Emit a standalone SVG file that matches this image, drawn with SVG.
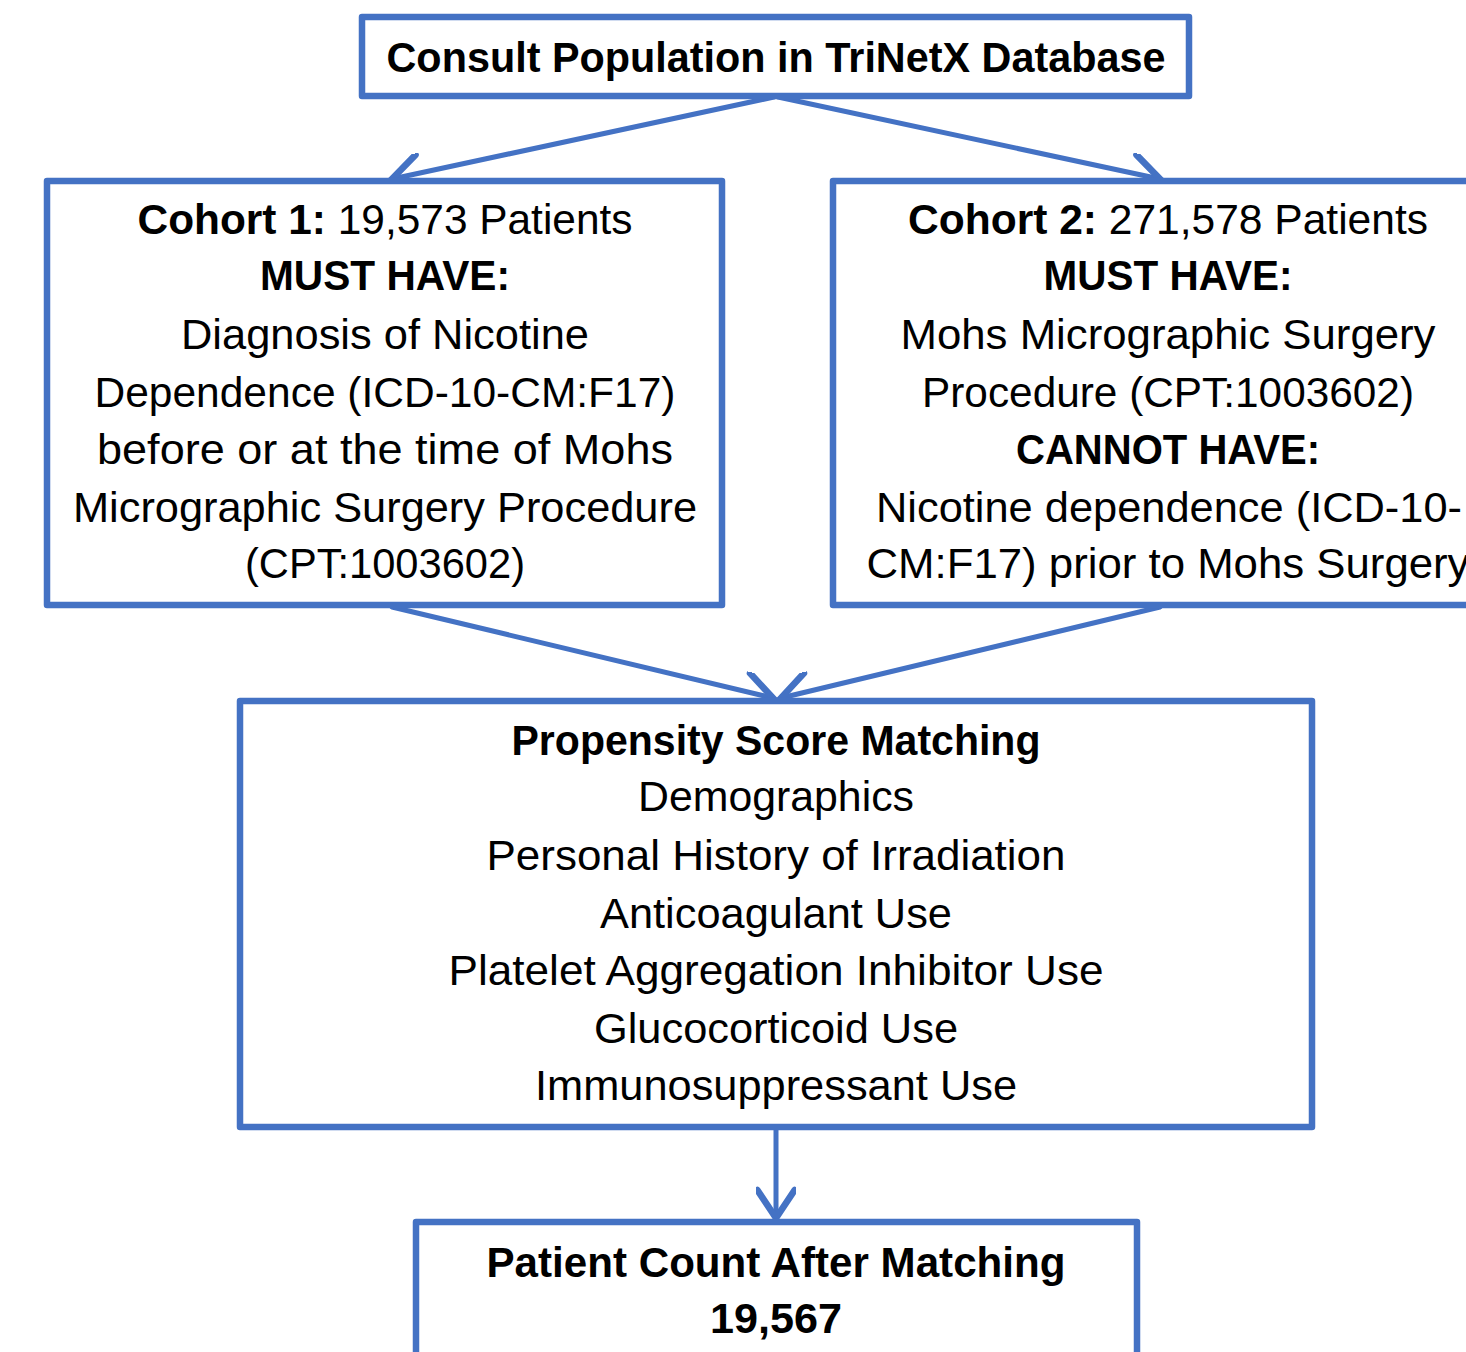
<svg xmlns="http://www.w3.org/2000/svg" width="1466" height="1352" viewBox="0 0 1466 1352">
<defs>
<style>
.box{fill:#ffffff;stroke:#4472C4;stroke-width:6.5;stroke-linejoin:round}
.conn{fill:none;stroke:#4472C4;stroke-width:5;stroke-linecap:round}
text{font-family:"Liberation Sans",Arial,sans-serif;font-size:42px;fill:#000;text-anchor:middle}
.b{font-weight:bold}
</style>
<marker id="ah" markerUnits="userSpaceOnUse" markerWidth="40" markerHeight="40" refX="25" refY="15" orient="auto" viewBox="0 0 30 30">
<path d="M4,1 L25,15 L4,29" fill="none" stroke="#4472C4" stroke-width="5" stroke-linecap="round" stroke-linejoin="miter"/>
</marker>
</defs>
<rect width="1466" height="1352" fill="#ffffff"/>
<g id="connectors">
<line class="conn" x1="774" y1="97" x2="392" y2="179" marker-end="url(#ah)"/>
<line class="conn" x1="778" y1="97" x2="1160" y2="179" marker-end="url(#ah)"/>
<line class="conn" x1="392" y1="607" x2="773" y2="698" marker-end="url(#ah)"/>
<line class="conn" x1="1160" y1="607" x2="781" y2="698" marker-end="url(#ah)"/>
<line class="conn" x1="776" y1="1130" x2="776" y2="1218" marker-end="url(#ah)"/>
</g>
<g id="top">
<rect class="box" x="362" y="17" width="827" height="79"/>
<text class="b" x="776" y="72" textLength="779" lengthAdjust="spacingAndGlyphs">Consult Population in TriNetX Database</text>
</g>
<g id="cohort1">
<rect class="box" x="47" y="181" width="675" height="424"/>
<text x="385" y="234" textLength="495" lengthAdjust="spacingAndGlyphs"><tspan class="b">Cohort 1:</tspan> 19,573 Patients</text>
<text class="b" x="385" y="290" textLength="250" lengthAdjust="spacingAndGlyphs">MUST HAVE:</text>
<text x="385" y="349" textLength="408" lengthAdjust="spacingAndGlyphs">Diagnosis of Nicotine</text>
<text x="385" y="407" textLength="581" lengthAdjust="spacingAndGlyphs">Dependence (ICD-10-CM:F17)</text>
<text x="385" y="464" textLength="576" lengthAdjust="spacingAndGlyphs">before or at the time of Mohs</text>
<text x="385" y="522" textLength="624" lengthAdjust="spacingAndGlyphs">Micrographic Surgery Procedure</text>
<text x="385" y="578" textLength="280" lengthAdjust="spacingAndGlyphs">(CPT:1003602)</text>
</g>
<g id="cohort2">
<rect class="box" x="833" y="181" width="675" height="424"/>
<text x="1168" y="234" textLength="520" lengthAdjust="spacingAndGlyphs"><tspan class="b">Cohort 2:</tspan> 271,578 Patients</text>
<text class="b" x="1168" y="290" textLength="249" lengthAdjust="spacingAndGlyphs">MUST HAVE:</text>
<text x="1168" y="349" textLength="535" lengthAdjust="spacingAndGlyphs">Mohs Micrographic Surgery</text>
<text x="1168" y="407" textLength="492" lengthAdjust="spacingAndGlyphs">Procedure (CPT:1003602)</text>
<text class="b" x="1168" y="464" textLength="304" lengthAdjust="spacingAndGlyphs">CANNOT HAVE:</text>
<text x="1169" y="522" textLength="586" lengthAdjust="spacingAndGlyphs">Nicotine dependence (ICD-10-</text>
<text x="1168" y="578" textLength="603" lengthAdjust="spacingAndGlyphs">CM:F17) prior to Mohs Surgery</text>
</g>
<g id="psm">
<rect class="box" x="240" y="701" width="1072" height="426"/>
<text class="b" x="776" y="755" textLength="529" lengthAdjust="spacingAndGlyphs">Propensity Score Matching</text>
<text x="776" y="811" textLength="276" lengthAdjust="spacingAndGlyphs">Demographics</text>
<text x="776" y="870" textLength="579" lengthAdjust="spacingAndGlyphs">Personal History of Irradiation</text>
<text x="776" y="928" textLength="352" lengthAdjust="spacingAndGlyphs">Anticoagulant Use</text>
<text x="776" y="985" textLength="655" lengthAdjust="spacingAndGlyphs">Platelet Aggregation Inhibitor Use</text>
<text x="776" y="1043" textLength="364" lengthAdjust="spacingAndGlyphs">Glucocorticoid Use</text>
<text x="776" y="1100" textLength="482" lengthAdjust="spacingAndGlyphs">Immunosuppressant Use</text>
</g>
<g id="result">
<rect class="box" x="416" y="1222" width="721" height="200"/>
<text class="b" x="776" y="1277" textLength="579" lengthAdjust="spacingAndGlyphs">Patient Count After Matching</text>
<text class="b" x="776" y="1333" textLength="132" lengthAdjust="spacingAndGlyphs">19,567</text>
</g>
</svg>
